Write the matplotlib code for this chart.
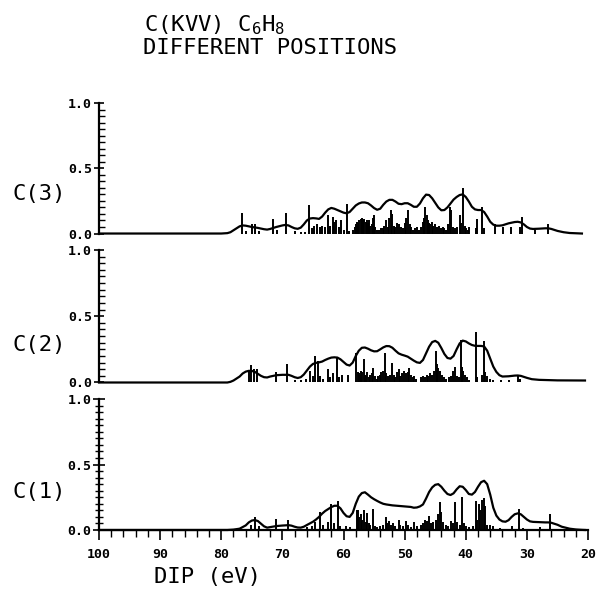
import matplotlib
matplotlib.use('Agg')
import matplotlib.pyplot as plt
from matplotlib.ticker import MultipleLocator

plt.rcParams['mathtext.fontset'] = 'custom'
plt.rcParams['mathtext.rm'] = 'DejaVu Sans Mono'

# ---- C(3) ----
c3_env_x = [100, 80, 79, 78.5, 78, 77.5, 77, 76.5, 76, 75, 74, 73, 72.5, 72, 71, 70, 69.5, 69, 68.5, 68, 67.5, 67,
            66.5, 66, 65.5, 65, 64.5, 64, 63.5, 63, 62.5, 62, 61.5, 61, 60.5, 60, 59.5, 59, 58.5, 58, 57.5, 57,
            56.5, 56, 55.5, 55, 54.5, 54, 53.5, 53, 52.5, 52, 51.5, 51, 50.5, 50, 49.5, 49, 48.5, 48, 47.5, 47,
            46.5, 46, 45.5, 45, 44.5, 44, 43.5, 43, 42.5, 42, 41.5, 41, 40.5, 40, 39.5, 39, 38.5, 38, 37.5, 37,
            36.5, 36, 35.5, 35, 34.5, 34, 33, 32, 31.5, 31, 30.5, 30, 29.5, 29, 28, 27, 26.5, 26, 25, 24, 23, 22, 21]
c3_env_y = [0, 0, 0.003, 0.01, 0.025, 0.04, 0.055, 0.062, 0.06, 0.05, 0.043, 0.033, 0.03, 0.035, 0.05, 0.062, 0.066,
            0.062, 0.05, 0.04, 0.036, 0.045, 0.07, 0.1, 0.115, 0.118, 0.116, 0.112, 0.13, 0.16, 0.185, 0.196, 0.19,
            0.18, 0.17, 0.16, 0.155, 0.165, 0.19, 0.215, 0.23, 0.238, 0.238, 0.232, 0.215, 0.195, 0.182, 0.19, 0.22,
            0.245, 0.258, 0.258, 0.245, 0.228, 0.225, 0.232, 0.232, 0.22, 0.205, 0.205, 0.23, 0.27, 0.298, 0.295,
            0.27, 0.235, 0.2, 0.178, 0.18, 0.2, 0.23, 0.26, 0.28, 0.295, 0.3, 0.28, 0.245, 0.205, 0.185, 0.18, 0.18,
            0.165, 0.13, 0.09, 0.068, 0.06, 0.06, 0.063, 0.078, 0.088, 0.09, 0.085, 0.07, 0.05, 0.038, 0.035, 0.037,
            0.04, 0.04, 0.035, 0.02, 0.01, 0.004, 0.002, 0]
c3_stick_x = [76.6, 75.9, 75.0, 74.5, 73.8, 71.5, 70.9, 69.4, 68.0, 67.0, 66.3, 65.7, 65.2, 64.8, 64.3, 63.9, 63.5,
              63.1, 62.6, 62.2, 61.8, 61.5, 61.2, 60.8, 60.4, 59.9, 59.4, 59.1,
              58.4, 58.2, 58.0, 57.8, 57.6, 57.4, 57.2, 57.0, 56.8, 56.6, 56.4, 56.2, 56.0, 55.8, 55.6, 55.4, 55.2,
              55.0, 54.8, 54.5, 54.2, 53.9, 53.6, 53.3, 53.0, 52.8, 52.5, 52.2, 52.0, 51.8, 51.5, 51.2, 50.9, 50.6,
              50.3, 50.0, 49.8, 49.5, 49.2, 48.9, 48.6, 48.3, 48.0, 47.7,
              47.3, 47.0, 46.8, 46.6, 46.4, 46.2, 46.0, 45.8, 45.6, 45.3, 45.0, 44.7, 44.4, 44.1, 43.8, 43.5, 43.2,
              42.9, 42.6, 42.4, 42.1, 41.8, 41.4, 41.0, 40.8, 40.4, 40.2, 39.9, 39.6, 39.4, 38.4, 38.1, 37.3, 37.0,
              35.2, 33.9, 32.6, 31.1, 30.8, 28.6, 26.6]
c3_stick_h = [0.155, 0.02, 0.07, 0.07, 0.02, 0.11, 0.03, 0.16, 0.02, 0.015, 0.015, 0.215, 0.04, 0.06, 0.07, 0.05, 0.06,
              0.05, 0.145, 0.06, 0.13, 0.09, 0.1, 0.05, 0.1, 0.03, 0.23, 0.02,
              0.03, 0.05, 0.07, 0.09, 0.08, 0.1, 0.11, 0.12, 0.1, 0.11, 0.09, 0.1, 0.08, 0.1, 0.06, 0.07, 0.12,
              0.14, 0.05, 0.03, 0.03, 0.04, 0.04, 0.06, 0.1, 0.05, 0.12, 0.18, 0.15, 0.06, 0.05, 0.08, 0.07, 0.05,
              0.04, 0.08, 0.12, 0.18, 0.07, 0.05, 0.03, 0.04, 0.05, 0.03,
              0.05, 0.09, 0.12, 0.2, 0.14, 0.1, 0.08, 0.07, 0.09, 0.06, 0.07, 0.05, 0.06, 0.04, 0.05, 0.04, 0.03,
              0.07, 0.2, 0.18, 0.05, 0.04, 0.05, 0.14, 0.08, 0.35, 0.06, 0.04, 0.03, 0.05, 0.04, 0.11, 0.2, 0.04,
              0.07, 0.05, 0.05, 0.05, 0.13, 0.03, 0.07]

# ---- C(2) ----
c2_env_x = [100, 79, 78.5, 78, 77, 76.5, 76, 75.5, 75, 74.5, 74, 73.5, 73, 72.5, 72, 71, 70, 69, 68.5, 68, 67.5, 67,
            66.5, 66, 65.5, 65, 64.5, 64, 63.5, 63, 62.5, 62, 61.5, 61, 60.5, 60, 59.5, 59, 58.5, 58, 57.5, 57,
            56.5, 56, 55.5, 55, 54.5, 54, 53.5, 53, 52.5, 52, 51.5, 51, 50.5, 50, 49.5, 49, 48.5, 48, 47.5, 47,
            46.5, 46, 45.5, 45, 44.5, 44, 43.5, 43, 42.5, 42, 41.5, 41, 40.5, 40, 39.5, 39, 38.5, 38, 37.5, 37,
            36.5, 36, 35.5, 35, 34.5, 34, 33, 32, 31.5, 31, 30, 29.2, 28, 25, 20.5]
c2_env_y = [0, 0, 0.005, 0.015, 0.045, 0.068, 0.082, 0.088, 0.087, 0.08, 0.065, 0.05, 0.04, 0.038, 0.045, 0.055,
            0.058, 0.058, 0.05, 0.04, 0.034, 0.04, 0.06, 0.09, 0.12, 0.14, 0.148, 0.152, 0.158, 0.17, 0.18, 0.188,
            0.19, 0.188, 0.175, 0.155, 0.135, 0.128, 0.15, 0.2, 0.24, 0.262, 0.264, 0.255, 0.243, 0.235, 0.236,
            0.25, 0.265, 0.275, 0.274, 0.262, 0.24, 0.22, 0.21, 0.203, 0.195, 0.18, 0.165, 0.152, 0.148, 0.17,
            0.22, 0.27, 0.305, 0.314, 0.3, 0.26, 0.215, 0.185, 0.18, 0.2, 0.25, 0.295, 0.316, 0.31, 0.295, 0.283,
            0.277, 0.276, 0.276, 0.272, 0.24, 0.18, 0.12, 0.08, 0.055, 0.045, 0.047, 0.052, 0.053, 0.05, 0.035,
            0.025, 0.02, 0.016, 0.015]
c2_stick_x = [75.5, 75.1, 74.6, 74.2, 71.1, 69.2, 68.0, 67.0, 66.2, 65.5, 65.0, 64.7, 64.2, 63.8, 63.3, 62.5, 62.2,
              61.7, 61.1, 60.8, 60.2, 59.3,
              57.9, 57.7, 57.5, 57.3, 57.1, 56.9, 56.7, 56.5, 56.3, 56.1, 55.9, 55.6, 55.4, 55.1, 54.9, 54.6, 54.3,
              54.0, 53.8, 53.5, 53.2, 53.0, 52.7, 52.4, 52.0, 51.8, 51.5, 51.2, 51.0, 50.7, 50.4, 50.1, 49.8, 49.5,
              49.3, 49.0, 48.7, 48.4, 48.1,
              47.3, 47.0, 46.7, 46.4, 46.1, 45.8, 45.5, 45.2, 44.9, 44.7, 44.5, 44.2, 43.9, 43.6, 43.2, 42.8, 42.5,
              42.1, 41.7, 41.4, 41.1, 40.8, 40.6, 40.4, 40.1, 39.8, 39.5, 38.4, 38.1, 37.4, 37.1, 36.8, 36.5, 36.1,
              35.6, 34.2, 33.0, 31.5, 31.1]
c2_stick_h = [0.09, 0.13, 0.1, 0.1, 0.08, 0.14, 0.02, 0.02, 0.03, 0.09, 0.05, 0.2, 0.16, 0.05, 0.03, 0.1, 0.04,
              0.07, 0.19, 0.04, 0.06, 0.06,
              0.22, 0.08, 0.07, 0.06, 0.09, 0.08, 0.18, 0.06, 0.05, 0.08, 0.04, 0.06, 0.07, 0.11, 0.05, 0.03, 0.05,
              0.06, 0.08, 0.09, 0.22, 0.07, 0.05, 0.06, 0.15, 0.06, 0.04, 0.08, 0.1, 0.05, 0.07, 0.09, 0.07, 0.08,
              0.11, 0.06, 0.04, 0.05, 0.03,
              0.04, 0.05, 0.04, 0.06, 0.05, 0.07, 0.06, 0.09, 0.24, 0.14, 0.11, 0.09, 0.06, 0.04, 0.03, 0.04, 0.05,
              0.09, 0.12, 0.05, 0.04, 0.32, 0.12, 0.09, 0.06, 0.04, 0.02, 0.38, 0.04, 0.06, 0.31, 0.08, 0.05, 0.03,
              0.02, 0.02, 0.02, 0.06, 0.03]

# ---- C(1) ----
c1_env_x = [100, 79, 78, 77, 76, 75.5, 75, 74.5, 74, 73.5, 73, 72.5, 72, 71, 70, 69, 68.5, 68, 67.5, 67, 66.5, 66,
            65, 64.5, 64, 63.5, 63, 62.5, 62, 61.5, 61, 60.5, 60, 59.5, 59, 58.5, 58, 57.5, 57, 56.5, 56, 55.5,
            55, 54.5, 54, 53.5, 53, 52, 51, 50, 49, 48.5, 48, 47.5, 47, 46.5, 46, 45.5, 45, 44.5, 44, 43.5, 43,
            42.5, 42, 41.5, 41, 40.5, 40, 39.5, 39, 38.5, 38, 37.5, 37, 36.5, 36, 35.5, 35, 34.5, 34, 33.5, 33,
            32.5, 32, 31.5, 31, 30.5, 30, 29.5, 29, 28, 27, 26.5, 26, 25, 24.3, 23, 22, 21, 20.5]
c1_env_y = [0, 0, 0.003, 0.01, 0.035, 0.058, 0.072, 0.076, 0.068, 0.048, 0.028, 0.018, 0.022, 0.03, 0.034, 0.037,
            0.033, 0.025, 0.019, 0.018, 0.025, 0.038, 0.063, 0.08, 0.1, 0.125, 0.145, 0.16, 0.175, 0.185, 0.185,
            0.165, 0.13, 0.105, 0.1, 0.13, 0.2, 0.255, 0.282, 0.288, 0.27, 0.25, 0.235, 0.222, 0.21, 0.2, 0.195,
            0.188, 0.184, 0.18, 0.176, 0.17, 0.172, 0.18, 0.195, 0.24, 0.29, 0.325, 0.345, 0.35, 0.33, 0.3, 0.275,
            0.267, 0.28, 0.31, 0.334, 0.33, 0.305, 0.275, 0.27, 0.29, 0.33, 0.365, 0.376, 0.35, 0.27, 0.17, 0.11,
            0.08, 0.066, 0.063, 0.075, 0.1, 0.12, 0.127, 0.12, 0.1, 0.08, 0.066, 0.062, 0.06, 0.058, 0.058, 0.055,
            0.04, 0.025, 0.01, 0.004, 0.001, 0]
c1_stick_x = [75.1, 74.5, 73.9, 71.1, 69.1, 66.0, 65.2, 64.6, 63.9, 63.4, 62.5, 62.0, 61.6, 60.9, 60.5, 59.6, 58.9,
              57.8, 57.6, 57.4, 57.1, 56.9, 56.6, 56.4, 56.2, 55.9, 55.6, 55.2, 54.9, 54.5, 54.0, 53.6, 53.1, 52.9,
              52.6, 52.3, 51.9, 51.5, 51.0, 50.7, 50.2, 49.8, 49.5, 48.9, 48.5, 48.0, 47.4, 47.0, 46.7, 46.4, 46.0,
              45.7, 45.3, 44.9, 44.5, 44.2, 44.0, 43.7, 43.3, 42.9, 42.4, 42.1, 41.7, 41.4, 41.0, 40.6, 40.3, 39.9,
              39.4, 38.8, 38.4, 38.2, 37.9, 37.6, 37.3, 37.0, 36.8, 36.5, 36.0, 35.6, 34.4, 32.4, 31.3, 30.6, 27.8,
              26.2]
c1_stick_h = [0.04, 0.1, 0.03, 0.085, 0.08, 0.02, 0.03, 0.06, 0.14, 0.04, 0.06, 0.195, 0.05, 0.22, 0.03, 0.03, 0.02,
              0.15, 0.15, 0.1, 0.12, 0.08, 0.15, 0.06, 0.13, 0.05, 0.04, 0.16, 0.03, 0.02, 0.03, 0.04, 0.1, 0.05,
              0.07, 0.04, 0.05, 0.03, 0.08, 0.04, 0.03, 0.07, 0.04, 0.02, 0.06, 0.03, 0.04, 0.05, 0.08, 0.07, 0.11,
              0.05, 0.06, 0.08, 0.12, 0.21, 0.14, 0.06, 0.04, 0.03, 0.07, 0.05, 0.21, 0.06, 0.04, 0.25, 0.05, 0.03,
              0.02, 0.03, 0.22, 0.08, 0.2, 0.15, 0.23, 0.245, 0.18, 0.04, 0.04, 0.03, 0.015, 0.03, 0.16, 0.015, 0.02,
              0.12]

panel_labels = ['C(3)', 'C(2)', 'C(1)']
x_ticks = [100, 90, 80, 70, 60, 50, 40, 30, 20]
y_ticks = [0.0, 0.5, 1.0]

fig = plt.figure(figsize=(5.99, 5.90), dpi=100)

# axes rectangles (fig fractions)
rects = [[0.1653, 0.6042, 0.8164, 0.2212],
         [0.1653, 0.3517, 0.8164, 0.2246],
         [0.1653, 0.1017, 0.8164, 0.2220]]
data = [(c3_env_x, c3_env_y, c3_stick_x, c3_stick_h),
        (c2_env_x, c2_env_y, c2_stick_x, c2_stick_h),
        (c1_env_x, c1_env_y, c1_stick_x, c1_stick_h)]
label_y = [194, 345, 492]

tickfont = {'family': 'DejaVu Sans Mono', 'weight': 'bold', 'size': 9.5}

for i in range(3):
    ax = fig.add_axes(rects[i])
    ex, ey, sx, sh = data[i]
    ax.vlines(sx, 0, sh, color='black', lw=1.4, clip_on=False)
    ax.plot(ex, ey, color='black', lw=1.6, clip_on=False)
    ax.set_xlim(100, 20)
    ax.set_ylim(0, 1.0)
    ax.spines['top'].set_visible(False)
    ax.spines['right'].set_visible(False)
    ax.spines['left'].set_linewidth(1.6)
    ax.set_yticks(y_ticks)
    ax.set_yticklabels(['%.1f' % v for v in y_ticks], fontdict=tickfont)
    ax.yaxis.set_minor_locator(MultipleLocator(0.05))
    if i < 2:
        ax.spines['bottom'].set_visible(False)
        ax.set_xticks([])
        ax.tick_params(axis='y', which='major', direction='inout', length=7, width=1.2, pad=1.5)
        ax.tick_params(axis='y', which='minor', direction='in', length=4, width=1.0)
    else:
        ax.spines['bottom'].set_linewidth(1.6)
        ax.set_xticks(x_ticks)
        ax.set_xticklabels([str(v) for v in x_ticks], fontdict=tickfont)
        ax.xaxis.set_minor_locator(MultipleLocator(2))
        ax.tick_params(axis='x', which='major', direction='out', length=7, width=1.2, pad=6)
        ax.tick_params(axis='x', which='minor', direction='out', length=5, width=1.0)
        ax.tick_params(axis='y', which='major', direction='inout', length=8, width=1.2, pad=1.5)
        ax.tick_params(axis='y', which='minor', direction='inout', length=6, width=1.0)
    ax.patch.set_alpha(0)
    fig.text(13 / 599, 1 - label_y[i] / 590, panel_labels[i], family='DejaVu Sans Mono',
             fontsize=16, ha='left', va='center')

fig.text(215 / 599, 1 - 25 / 590, r'C(KVV) C$\mathrm{_6}$H$\mathrm{_8}$', family='DejaVu Sans Mono',
         fontsize=16, ha='center', va='center')
fig.text(270 / 599, 1 - 48 / 590, 'DIFFERENT POSITIONS', family='DejaVu Sans Mono',
         fontsize=16, ha='center', va='center')
fig.text(207 / 599, 1 - 577 / 590, 'DIP (eV)', family='DejaVu Sans Mono',
         fontsize=16, ha='center', va='center')

fig.savefig('out.png', dpi=100)
